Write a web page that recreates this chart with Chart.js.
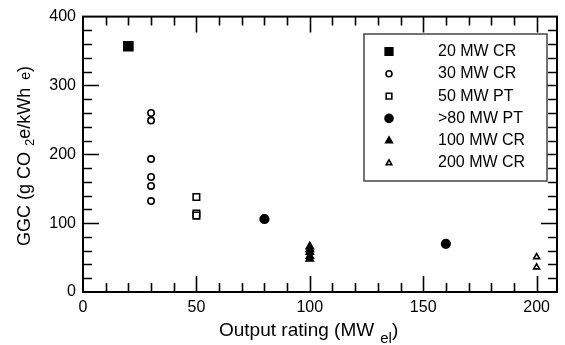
<!DOCTYPE html>
<html>
<head>
<meta charset="utf-8">
<script src="https://cdn.jsdelivr.net/npm/chart.js@4/dist/chart.umd.min.js"></script>
<style>
  html, body { margin: 0; padding: 0; background: #fff; }
  #wrap { width: 565px; height: 345px; position: relative; }
</style>
</head>
<body>
<div id="wrap"><canvas id="ggc"></canvas></div>
<script>
// ── DATA ──────────────────────────────────────────────────────────────────
const seriesLabels = ['20 MW CR', '30 MW CR', '50 MW PT', '>80 MW PT', '100 MW CR', '200 MW CR'];

const cr20X  = [20];
const cr20Y  = [357];
const cr30X  = [30, 30, 30, 30, 30, 30];
const cr30Y  = [260, 249, 193, 167, 154, 132];
const pt50X  = [50, 50, 50];
const pt50Y  = [138, 114, 111];
const pt80X  = [80, 160];
const pt80Y  = [106, 70];
const cr100X = [100, 100, 100, 100, 100];
const cr100Y = [66, 62, 58, 52, 48];
const cr200X = [200, 200];
const cr200Y = [51, 36];

const xTicks = [0, 50, 100, 150, 200];
const yTicks = [0, 100, 200, 300, 400];

function pts(xs, ys) {
  return xs.map(function(x, i) { return { x: x, y: ys[i] }; });
}

// marker looks: [style, radius, filled]
const looks = [
  ['rect',     6.4, true],
  ['circle',   3.2, false],
  ['rect',     4.6, false],
  ['circle',   4.3, true],
  ['triangle', 4.2, true],
  ['triangle', 3.4, false]
];
const legendLooks = [
  ['rect',     5.4, true],
  ['circle',   3.0, false],
  ['rect',     4.0, false],
  ['circle',   4.0, true],
  ['triangle', 3.8, true],
  ['triangle', 3.2, false]
];

const seriesData = [
  pts(cr20X, cr20Y), pts(cr30X, cr30Y), pts(pt50X, pt50Y),
  pts(pt80X, pt80Y), pts(cr100X, cr100Y), pts(cr200X, cr200Y)
];

const datasets = seriesData.map(function(d, i) {
  const lk = looks[i];
  return {
    label:            seriesLabels[i],
    data:             d,
    pointStyle:       lk[0],
    pointRadius:      lk[1],
    pointHoverRadius: lk[1],
    borderWidth:      1.6,
    borderColor:      '#000',
    backgroundColor:  lk[2] ? '#000' : '#fff'
  };
});

const FONT = 'Liberation Sans, Arial, sans-serif';

// ── DRAWING HELPERS ───────────────────────────────────────────────────────
function drawMarker(ctx, style, r, filled, x, y) {
  ctx.save();
  ctx.beginPath();
  if (style === 'rect') {
    const s = Math.SQRT1_2 * r;
    ctx.rect(x - s, y - s, 2 * s, 2 * s);
  } else if (style === 'circle') {
    ctx.arc(x, y, r, 0, Math.PI * 2);
  } else {
    ctx.moveTo(x, y - r);
    ctx.lineTo(x + r * 0.87, y + r * 0.5);
    ctx.lineTo(x - r * 0.87, y + r * 0.5);
    ctx.closePath();
  }
  ctx.fillStyle = filled ? '#000' : '#fff';
  ctx.fill();
  ctx.lineWidth = 1.6;
  ctx.strokeStyle = '#000';
  ctx.stroke();
  ctx.restore();
}

// text made of pieces: [text, size, dy, gapAfter]
function drawPieces(ctx, pieces, x, y) {
  pieces.forEach(function(p) {
    ctx.font = p[1] + 'px ' + FONT;
    ctx.fillText(p[0], x, y + p[2]);
    x += ctx.measureText(p[0]).width + (p[3] || 0);
  });
}

const framePlugin = {
  id: 'frame',
  afterDraw: function(chart) {
    const ctx = chart.ctx;
    const a = chart.chartArea;
    const xs = chart.scales.x, ys = chart.scales.y;
    ctx.save();
    ctx.strokeStyle = '#000';
    ctx.lineWidth = 2;
    ctx.lineCap = 'butt';
    ctx.strokeRect(a.left, a.top, a.right - a.left, a.bottom - a.top);

    ctx.lineWidth = 1.6;
    // x ticks every 10, major every 50
    for (let v = 10; v <= 200; v += 10) {
      const px = Math.round(xs.getPixelForValue(v)) + 0.5;
      const len = v % 50 === 0 ? 16 : 9;
      ctx.beginPath();
      ctx.moveTo(px, a.bottom); ctx.lineTo(px, a.bottom - len);
      ctx.moveTo(px, a.top);    ctx.lineTo(px, a.top + len);
      ctx.stroke();
    }
    // y ticks every 20, major every 100
    for (let v = 20; v < 400; v += 20) {
      const py = Math.round(ys.getPixelForValue(v)) + 0.5;
      const len = v % 100 === 0 ? 16 : 9;
      ctx.beginPath();
      ctx.moveTo(a.left, py);  ctx.lineTo(a.left + len, py);
      ctx.moveTo(a.right, py); ctx.lineTo(a.right - len, py);
      ctx.stroke();
    }

    // legend
    const lx = 364, ly = 34, lw = 183, lh = 147;
    ctx.fillStyle = '#fff';
    ctx.fillRect(lx, ly, lw, lh);
    ctx.strokeStyle = '#444';
    ctx.lineWidth = 1.5;
    ctx.strokeRect(lx, ly, lw, lh);
    ctx.fillStyle = '#000';
    ctx.font = '16px ' + FONT;
    ctx.textBaseline = 'middle';
    ctx.textAlign = 'left';
    seriesLabels.forEach(function(lab, i) {
      const y = 51.5 + i * 22.3;
      const lk = legendLooks[i];
      drawMarker(ctx, lk[0], lk[1], lk[2], 389, y);
      ctx.fillStyle = '#000';
      ctx.fillText(lab, 438, y);
    });

    // axis titles
    ctx.textBaseline = 'alphabetic';
    ctx.fillStyle = '#000';
    drawPieces(ctx, [
      ['Output rating (MW', 19, 0, 6],
      ['el', 15, 7],
      [')', 19, 0]
    ], 219, 336);

    ctx.save();
    ctx.translate(30, 246);
    ctx.rotate(-Math.PI / 2);
    drawPieces(ctx, [
      ['GGC (g CO ', 18, 0, 1],
      ['2', 13, 4],
      ['e/kWh', 18, 0, 8],
      ['e', 14, 0],
      [')', 18, 0]
    ], 0, 0);
    ctx.restore();
    ctx.restore();
  }
};

// ── CHART ─────────────────────────────────────────────────────────────────
new Chart(document.getElementById('ggc'), {
  type: 'scatter',
  data: { datasets: datasets },
  options: {
    responsive:          true,
    maintainAspectRatio: false,
    animation:           false,
    layout: { padding: { left: 0, right: 3, top: 16, bottom: 0 } },
    plugins: {
      legend:  { display: false },
      tooltip: { enabled: false }
    },
    scales: {
      x: {
        type: 'linear',
        min: 0,
        max: 209,
        afterFit: function(s) { s.height = 53; },
        afterBuildTicks: function(s) { s.ticks = xTicks.map(function(v) { return { value: v }; }); },
        grid:   { display: false, drawTicks: false },
        border: { display: false },
        ticks:  { padding: 6, color: '#000', font: { family: FONT, size: 16 }, maxRotation: 0 }
      },
      y: {
        type: 'linear',
        min: 0,
        max: 400,
        afterFit: function(s) { s.width = 83; },
        afterBuildTicks: function(s) { s.ticks = yTicks.map(function(v) { return { value: v }; }); },
        grid:   { display: false, drawTicks: false },
        border: { display: false },
        ticks:  { padding: 7, color: '#000', font: { family: FONT, size: 16 } }
      }
    }
  },
  plugins: [framePlugin]
});
</script>
</body>
</html>
